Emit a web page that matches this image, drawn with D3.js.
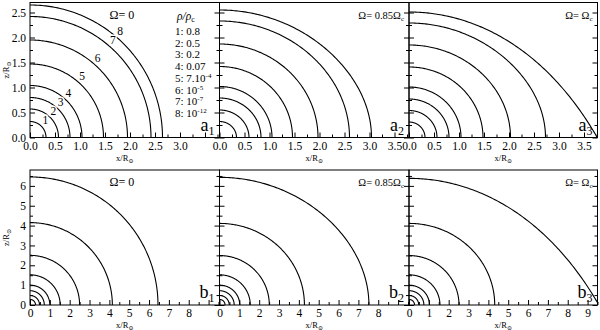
<!DOCTYPE html>
<html><head><meta charset="utf-8">
<script src="https://cdn.jsdelivr.net/npm/d3@7"></script>
<style>
body{margin:0;background:#fff}
svg{display:block}
</style></head>
<body><svg id="c" width="600" height="330"></svg>
<script>
// ---------- data ----------
const levelNames = ["1","2","3","4","5","6","7","8"];
const densityValues = [["0.8",""],["0.5",""],["0.2",""],["0.07",""],["7.10","-4"],["10","-5"],["10","-7"],["10","-12"]];
const omegaCases = ["0","0.85","1"];
// top row (a): polar and equatorial radii of each contour, in R_sun
const aPolar0 = [0.32,0.57,0.80,1.04,1.47,1.95,2.42,2.65];
const aEquat0 = [0.32,0.57,0.80,1.04,1.47,1.95,2.42,2.65];
const aPolar1 = [0.32,0.55,0.79,1.02,1.42,1.87,2.33,2.55];
const aEquat1 = [0.34,0.59,0.83,1.05,1.46,1.97,2.60,3.04];
const aPolar2 = [0.31,0.54,0.77,1.01,1.41,1.85,2.29,2.51];
const aEquat2 = [0.32,0.56,0.80,1.04,1.48,2.03,2.73,3.76];
// bottom row (b)
const bPolar0 = [0.28,0.48,0.72,1.00,1.52,2.50,4.15,6.45];
const bEquat0 = [0.28,0.48,0.72,1.00,1.52,2.50,4.15,6.45];
const bPolar1 = [0.28,0.48,0.72,1.00,1.52,2.49,4.11,6.43];
const bEquat1 = [0.28,0.49,0.74,1.02,1.55,2.51,4.28,7.53];
const bPolar2 = [0.28,0.48,0.72,1.00,1.52,2.49,4.11,6.38];
const bEquat2 = [0.28,0.49,0.75,1.03,1.56,2.52,4.32,9.57];
// axes
const aXTicks = [0,0.5,1,1.5,2,2.5,3,3.5];
const aYTicks = [0,0.5,1,1.5,2,2.5];
const bXTicks = [0,1,2,3,4,5,6,7,8,9];
const bYTicks = [0,1,2,3,4,5,6];
const aXLabelMax = [3.0,3.5,3.5];
const bXLabelMax = [8,8,9];
const panelTags = [["a","1"],["a","2"],["a","3"],["b","1"],["b","2"],["b","3"]];

// ---------- layout ----------
const FONT = '"Liberation Serif","Times New Roman","DejaVu Serif",serif';
const svg = d3.select("#c");
const colEdges = [[30,219.5],[219.5,409],[409,597.5]];
const rows = [
  {top:2.5, bottom:137.5, yMax:2.7, xMax:[3.79,3.79,3.77], xT:aXTicks, yT:aYTicks, xMinor:0.25, yMinor:0.25, fmt:d3.format(".1f"),
   polar:[aPolar0,aPolar1,aPolar2], equat:[aEquat0,aEquat1,aEquat2], labMax:aXLabelMax},
  {top:170, bottom:305, yMax:6.8, xMax:[9.55,9.55,9.5], xT:bXTicks, yT:bYTicks, xMinor:0.5, yMinor:0.5, fmt:d3.format("d"),
   polar:[bPolar0,bPolar1,bPolar2], equat:[bEquat0,bEquat1,bEquat2], labMax:bXLabelMax}
];

// equipotential-like contour through given polar & equatorial radius
function contour(rp, re){
  const w = 2*(1/rp - 1/re)/(re*re);
  const pts = [];
  for(let i=0;i<=120;i++){
    const th = Math.PI/2*i/120, s = Math.sin(th);
    let r;
    if(re<=rp+1e-9){ r = rp; }
    else{
      let lo=rp, hi=re;
      for(let k=0;k<60;k++){
        const m=(lo+hi)/2;
        const f = 1/m + 0.5*w*m*m*s*s - 1/rp;
        if(f>0) lo=m; else hi=m;
      }
      r=(lo+hi)/2;
    }
    pts.push([r*s, r*Math.cos(th)]);
  }
  return pts;
}

function range(a,b,st){const o=[];for(let v=a;v<=b+1e-9;v+=st)o.push(+v.toFixed(4));return o;}

rows.forEach((row,ri)=>{
  const y = d3.scaleLinear().domain([0,row.yMax]).range([row.bottom,row.top]);
  colEdges.forEach((ce,ci)=>{
    const x = d3.scaleLinear().domain([0,row.xMax[ci]]).range([ce[0],ce[1]]);
    const g = svg.append("g");
    const cid = "clip"+ri+ci;
    svg.append("clipPath").attr("id",cid).append("rect")
      .attr("x",ce[0]).attr("y",row.top).attr("width",ce[1]-ce[0]).attr("height",row.bottom-row.top);
    // contours
    const line = d3.line().x(d=>x(d[0])).y(d=>y(d[1]));
    const cg = g.append("g").attr("clip-path","url(#"+cid+")");
    row.polar[ci].forEach((rp,k)=>{
      cg.append("path").attr("d",line(contour(rp,row.equat[ci][k])))
        .attr("fill","none").attr("stroke","#000").attr("stroke-width",1.1);
    });
    // minor ticks
    const xMinor = range(0,row.xMax[ci],row.xMinor).filter(v=>!row.xT.includes(v));
    const yMinor = range(0,row.yMax,row.yMinor).filter(v=>!row.yT.includes(v));
    const tickStyle = sel=>{sel.select(".domain").remove();sel.selectAll("line").attr("stroke","#000");
      sel.attr("font-family",FONT);
      sel.selectAll("text").attr("font-size",11.5).attr("fill","#000");};
    g.append("g").attr("transform",`translate(0,${row.bottom})`)
      .call(d3.axisBottom(x).tickValues(row.xT.filter(v=>v<=row.xMax[ci])).tickSize(-5).tickPadding(4)
        .tickFormat(v=> v<=row.labMax[ci]+1e-9 ? row.fmt(v) : "")).call(tickStyle);
    g.append("g").attr("transform",`translate(0,${row.bottom})`)
      .call(d3.axisBottom(x).tickValues(xMinor).tickSize(-3).tickFormat("")).call(tickStyle);
    g.append("g").attr("transform",`translate(${ce[0]},0)`)
      .call(d3.axisLeft(y).tickValues(row.yT).tickSize(-5).tickPadding(4)
        .tickFormat(v=> ci===0 ? row.fmt(v) : "")).call(tickStyle);
    g.append("g").attr("transform",`translate(${ce[0]},0)`)
      .call(d3.axisLeft(y).tickValues(yMinor).tickSize(-3).tickFormat("")).call(tickStyle);
    g.append("g").attr("transform",`translate(${ce[1]},0)`)
      .call(d3.axisRight(y).tickValues(row.yT).tickSize(-5).tickFormat("")).call(tickStyle);
    g.append("g").attr("transform",`translate(${ce[1]},0)`)
      .call(d3.axisRight(y).tickValues(yMinor).tickSize(-3).tickFormat("")).call(tickStyle);
    // frame
    g.append("rect").attr("x",ce[0]).attr("y",row.top).attr("width",ce[1]-ce[0]).attr("height",row.bottom-row.top)
      .attr("fill","none").attr("stroke","#000").attr("stroke-width",1);
    // x title
    const xt = g.append("text").attr("x",(ce[0]+ce[1])/2).attr("y",row.bottom+23).attr("text-anchor","middle")
      .attr("font-size",8.5);
    xt.append("tspan").text("x/R");
    xt.append("tspan").attr("font-size",6).attr("dy",2).text("\u2299");
    // omega label
    const om = g.append("text").attr("y",row.top+16).attr("font-size",ci===0?12:10.5);
    if(omegaCases[ci]==="0"){ om.attr("x",ce[0]+(ce[1]-ce[0])*0.485).attr("text-anchor","middle").text("\u03a9= 0"); }
    else {
      om.attr("x",ce[1]-5).attr("text-anchor","end");
      om.append("tspan").text("\u03a9= "+(omegaCases[ci]==="1"?"":omegaCases[ci])+"\u03a9");
      om.append("tspan").attr("font-size",7).attr("dy",2).text("c");
    }
    // panel tag
    const tag = panelTags[ri*3+ci];
    const tt = g.append("text").attr("x",ce[1]-5).attr("y",row.bottom-7).attr("text-anchor","end").attr("font-size",18);
    tt.append("tspan").text(tag[0]);
    tt.append("tspan").attr("font-size",12).attr("dy",4).text(tag[1]);
  });
  // y title
  const yc = (row.top+row.bottom)/2;
  const yt = svg.append("text").attr("transform",`translate(9,${yc}) rotate(-90)`).attr("text-anchor","middle").attr("font-size",8.5);
  yt.append("tspan").text("z/R");
  yt.append("tspan").attr("font-size",6).attr("dy",2).text("\u2299");
});

// curve numbers and density legend in panel a1
{
  const x = d3.scaleLinear().domain([0,rows[0].xMax[0]]).range(colEdges[0]);
  const y = d3.scaleLinear().domain([0,rows[0].yMax]).range([rows[0].bottom,rows[0].top]);
  const ang = 50*Math.PI/180;
  aPolar0.forEach((r,i)=>{
    svg.append("text").attr("x",x(r*Math.cos(ang))+5).attr("y",y(r*Math.sin(ang))-1)
      .attr("text-anchor","middle").attr("font-size",11.5)
      .attr("stroke","#fff").attr("stroke-width",3).attr("paint-order","stroke")
      .text(levelNames[i]);
  });
  const lx = 175;
  const head = svg.append("text").attr("x",lx+2).attr("y",20).attr("font-size",11.5);
  head.append("tspan").attr("font-style","italic").text("\u03c1/\u03c1");
  head.append("tspan").attr("font-size",8).attr("dy",2).text("c");
  densityValues.forEach((d,i)=>{
    const t = svg.append("text").attr("x",lx).attr("y",35+i*11.7).attr("font-size",11);
    t.append("tspan").text(levelNames[i]+": "+d[0]);
    if(d[1]) t.append("tspan").attr("font-size",7).attr("dy",-4).text(d[1]);
  });
}
svg.selectAll("text").attr("font-family",FONT);
</script></body></html>
